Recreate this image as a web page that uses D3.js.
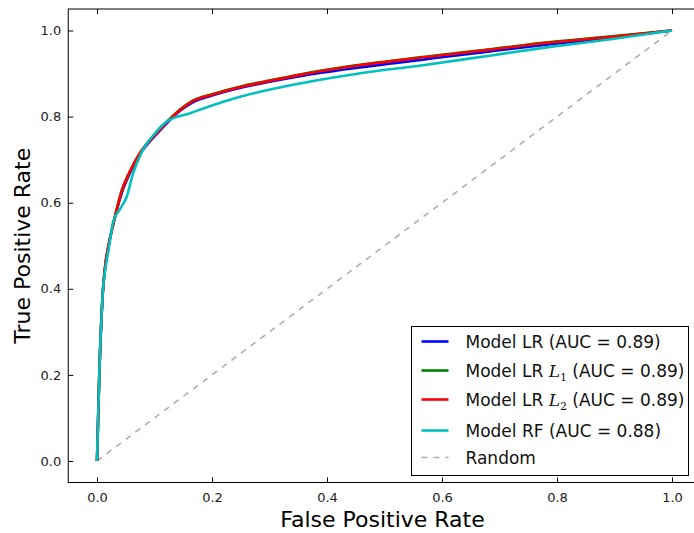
<!DOCTYPE html>
<html>
<head>
<meta charset="utf-8">
<script src="https://cdn.jsdelivr.net/npm/d3@7"></script>
<style>
  body { margin: 0; background: #fff; }
  svg { display: block; font-family: "DejaVu Sans", sans-serif; }
</style>
</head>
<body>
<svg id="roc" width="694" height="533"></svg>
<script>
// ROC curve samples
const fprLR = [0, 0.002, 0.004, 0.006, 0.008, 0.01, 0.015, 0.02, 0.03, 0.043, 0.057, 0.075, 0.104, 0.123, 0.145, 0.165, 0.2, 0.25, 0.3, 0.353, 0.45, 0.57, 0.68, 0.788, 0.9, 1];
const tprLR = [0, 0.1, 0.2, 0.28, 0.34, 0.39, 0.46, 0.5, 0.56, 0.622, 0.668, 0.713, 0.76, 0.787, 0.814, 0.832, 0.849, 0.867, 0.881, 0.894, 0.913, 0.933, 0.951, 0.968, 0.984, 1];
const tprL1 = [0, 0.1, 0.2, 0.28, 0.34, 0.39, 0.46, 0.5, 0.56, 0.628, 0.672, 0.716, 0.763, 0.79, 0.817, 0.836, 0.852, 0.870, 0.884, 0.898, 0.919, 0.939, 0.956, 0.973, 0.987, 1];
const tprL2 = [0, 0.1, 0.2, 0.28, 0.34, 0.39, 0.46, 0.5, 0.56, 0.628, 0.672, 0.716, 0.762, 0.789, 0.816, 0.835, 0.851, 0.869, 0.883, 0.897, 0.918, 0.938, 0.955, 0.972, 0.986, 1];
const fprRF = [0, 0.002, 0.004, 0.006, 0.008, 0.01, 0.015, 0.02, 0.028, 0.04, 0.052, 0.062, 0.078, 0.1, 0.123, 0.162, 0.2, 0.249, 0.353, 0.45, 0.57, 0.68, 0.788, 0.9, 1];
const tprRF = [0, 0.1, 0.2, 0.28, 0.34, 0.39, 0.45, 0.49, 0.555, 0.585, 0.615, 0.665, 0.718, 0.76, 0.79, 0.808, 0.826, 0.846, 0.877, 0.899, 0.92, 0.941, 0.962, 0.981, 1];
const randomLine = [0, 1];

const xTicks = [0, 0.2, 0.4, 0.6, 0.8, 1.0];
const yTicks = [0, 0.2, 0.4, 0.6, 0.8, 1.0];

const models = [
  { name: "Model LR", sub: null, auc: "0.89", color: "#0000ff", fpr: fprLR, tpr: tprLR },
  { name: "Model LR", sub: "1", auc: "0.89", color: "#008000", fpr: fprLR, tpr: tprL1 },
  { name: "Model LR", sub: "2", auc: "0.89", color: "#ff0000", fpr: fprLR, tpr: tprL2 },
  { name: "Model RF", sub: null, auc: "0.88", color: "#00bfbf", fpr: fprRF, tpr: tprRF },
];

const svg = d3.select("#roc");
const x = d3.scaleLinear().domain([-0.05, 1.05]).range([68.25, 700.75]);
const y = d3.scaleLinear().domain([-0.05, 1.05]).range([482.5, 9]);

// random guess line
svg.append("path")
  .attr("d", d3.line()(randomLine.map((v) => [x(v), y(v)])))
  .attr("stroke", "#aaaaaa")
  .attr("stroke-width", 1.5)
  .attr("stroke-dasharray", "6,6")
  .attr("fill", "none");

const line = d3.line().curve(d3.curveMonotoneX);
models.forEach((m) => {
  svg.append("path")
    .attr("d", line(m.fpr.map((f, i) => [x(f), y(m.tpr[i])])))
    .attr("stroke", m.color)
    .attr("stroke-width", 2.6)
    .attr("stroke-linejoin", "round")
    .attr("fill", "none");
});

// axes, ticks pointing inward like matplotlib classic
const fmt = d3.format(".1f");
const styleAxis = (g) => {
  g.select(".domain").remove();
  g.selectAll("line").attr("stroke", "#000");
  g.selectAll("text").attr("font-size", 13).attr("fill", "#222").attr("font-family", "DejaVu Sans");
};
svg.append("g").attr("transform", `translate(0,${y(-0.05)})`)
  .call(d3.axisBottom(x).tickValues(xTicks).tickFormat(fmt).tickSizeInner(-5).tickSizeOuter(0).tickPadding(10))
  .call(styleAxis);
svg.append("g").attr("transform", `translate(0,${y(1.05)})`)
  .call(d3.axisTop(x).tickValues(xTicks).tickFormat("").tickSizeInner(-5).tickSizeOuter(0))
  .call(styleAxis);
svg.append("g").attr("transform", `translate(${x(-0.05)},0)`)
  .call(d3.axisLeft(y).tickValues(yTicks).tickFormat(fmt).tickSizeInner(-5).tickSizeOuter(0).tickPadding(7))
  .call(styleAxis);

// frame
svg.append("rect")
  .attr("x", x(-0.05)).attr("y", y(1.05))
  .attr("width", x(1.05) - x(-0.05)).attr("height", y(-0.05) - y(1.05))
  .attr("fill", "none").attr("stroke", "#000").attr("stroke-width", 1);

// axis titles
svg.append("text")
  .attr("x", (x(-0.05) + x(1.05)) / 2 - 2).attr("y", 527)
  .attr("text-anchor", "middle").attr("font-size", 22)
  .text("False Positive Rate");
svg.append("text")
  .attr("transform", `translate(30,${(y(-0.05) + y(1.05)) / 2}) rotate(-90)`)
  .attr("text-anchor", "middle").attr("font-size", 22)
  .text("True Positive Rate");

// legend
const legend = svg.append("g").attr("transform", "translate(411.5,326.5)");
legend.append("rect")
  .attr("width", 277).attr("height", 149)
  .attr("fill", "#fff").attr("stroke", "#000").attr("stroke-width", 1);

const rowY = [15, 44, 73, 104, 131];
const entries = models.map((m) => ({ ...m, dashed: false })).concat([{ name: "Random", color: "#aaaaaa", dashed: true }]);
entries.forEach((e, i) => {
  const row = legend.append("g").attr("transform", `translate(0,${rowY[i]})`);
  row.append("line")
    .attr("x1", 10).attr("x2", 37).attr("y1", 0).attr("y2", 0)
    .attr("stroke", e.color)
    .attr("stroke-width", e.dashed ? 1.5 : 2.6)
    .attr("stroke-dasharray", e.dashed ? "6,6" : null);
  const t = row.append("text").attr("x", 54).attr("y", 6).attr("font-size", 17).attr("fill", "#111");
  if (e.dashed) {
    t.text(e.name);
    return;
  }
  t.append("tspan").text(e.name + " ");
  if (e.sub) {
    t.append("tspan").attr("font-family", "DejaVu Serif").attr("font-style", "italic").text("L");
    t.append("tspan").attr("font-family", "DejaVu Serif").attr("font-size", 11).attr("dy", 4).text(e.sub);
    t.append("tspan").attr("dy", -4).text("  (AUC = " + e.auc + ")");
  } else {
    t.append("tspan").text("(AUC = " + e.auc + ")");
  }
});
</script>
</body>
</html>
